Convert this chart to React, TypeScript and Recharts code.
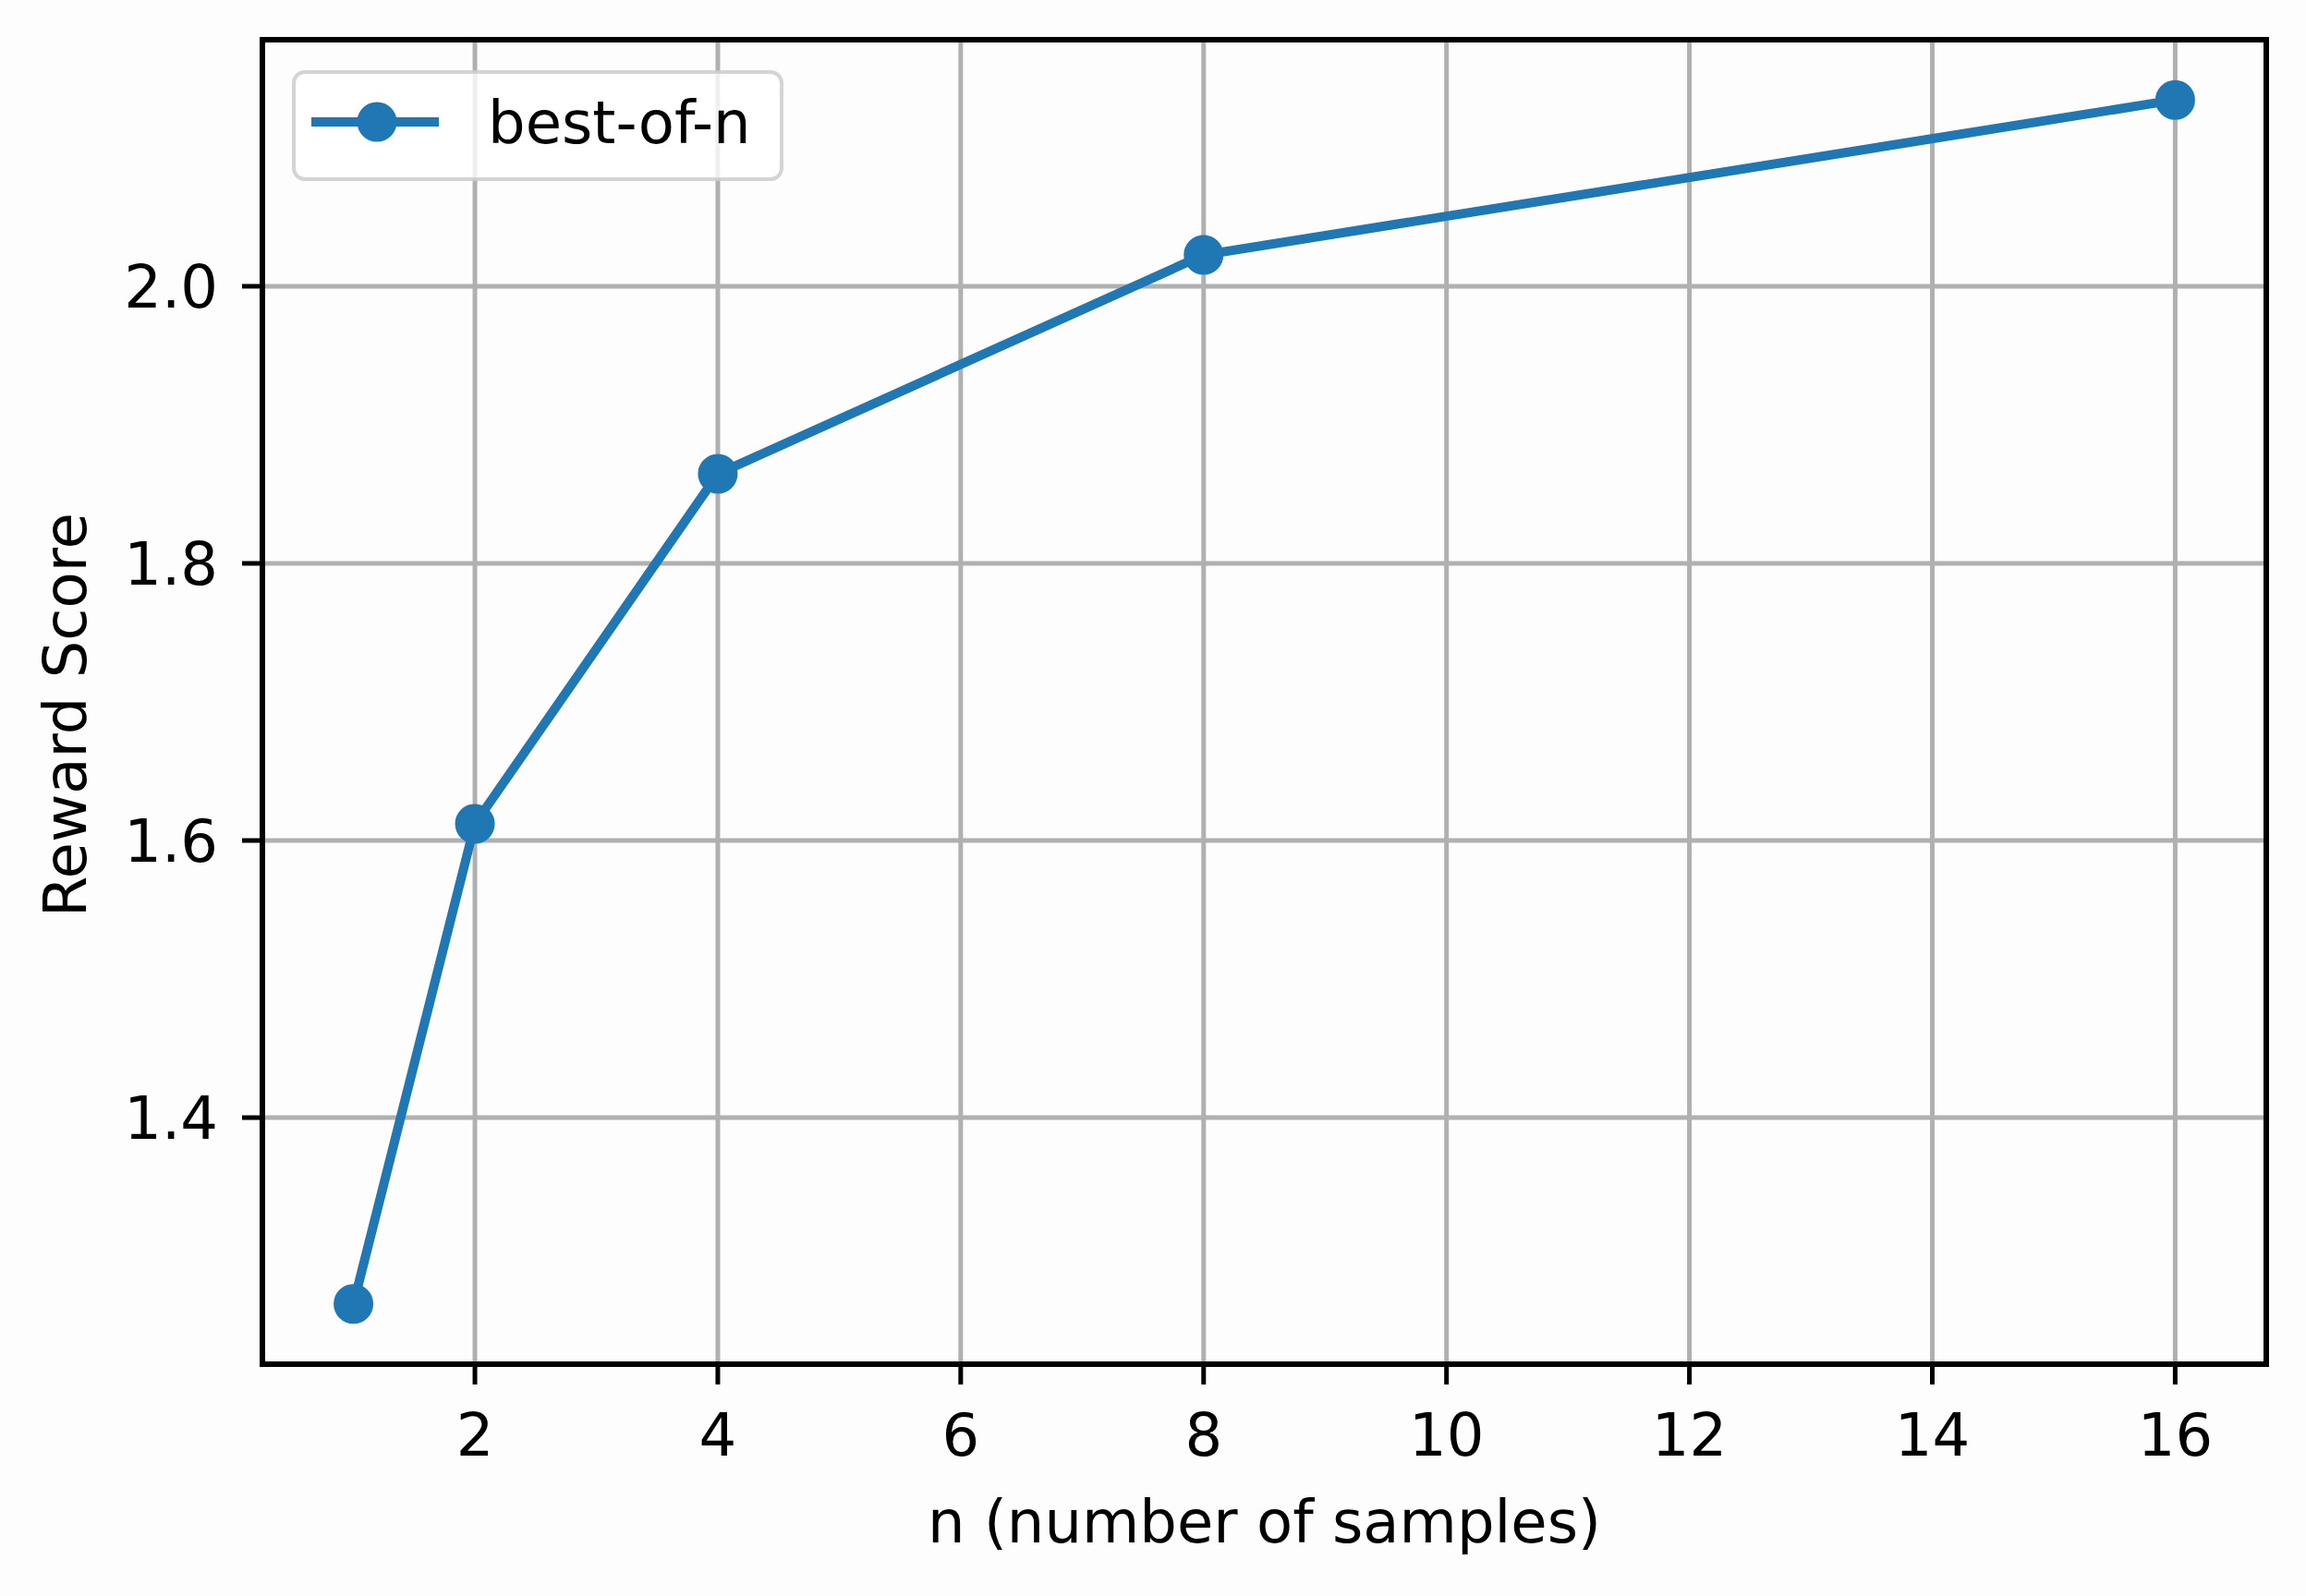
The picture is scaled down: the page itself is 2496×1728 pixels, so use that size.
import React from 'react';
import { LineChart, Line, XAxis, YAxis, CartesianGrid, ReferenceArea, Legend } from 'recharts';

// ---- data ----
const N_VALUES = [1, 2, 4, 8, 16];
const BEST_OF_N = [1.2655, 1.612, 1.8646, 2.0226, 2.1345];
const X_TICKS = [2, 4, 6, 8, 10, 12, 14, 16];
const Y_TICKS = [1.4, 1.6, 1.8, 2.0];
const SERIES_NAME = 'best-of-n';
const X_LABEL = 'n (number of samples)';
const Y_LABEL = 'Reward Score';

const data = N_VALUES.map((n, i) => ({ n, score: BEST_OF_N[i] }));

// matplotlib-like 5% autoscale margins
const xLo = Math.min(...N_VALUES);
const xHi = Math.max(...N_VALUES);
const yLo = Math.min(...BEST_OF_N);
const yHi = Math.max(...BEST_OF_N);
const X_MIN = xLo - 0.05 * (xHi - xLo);
const X_MAX = xHi + 0.05 * (xHi - xLo);
const Y_MIN = yLo - 0.05 * (yHi - yLo);
const Y_MAX = yHi + 0.05 * (yHi - yLo);

// ---- style ----
const FONT = '"DejaVu Sans", Verdana, sans-serif';
const FS = 64;
const BLUE = '#1f77b4';
const W = 2496;
const H = 1728;

const renderLegend = (props: any) => {
  const item = props && props.payload && props.payload[0];
  const color = (item && item.color) || BLUE;
  const label = (item && item.value) || SERIES_NAME;
  return (
    <svg width={532} height={120} style={{ display: 'block', overflow: 'visible' }}>
      <rect
        x={2}
        y={2}
        width={528}
        height={116}
        rx={12}
        ry={12}
        fill="#ffffff"
        fillOpacity={0.8}
        stroke="#cccccc"
        strokeOpacity={0.85}
        strokeWidth={4}
      />
      <line x1={21} x2={159} y1={56} y2={56} stroke={color} strokeWidth={10} />
      <circle cx={92} cy={56} r={18.5} fill={color} stroke={color} strokeWidth={6} />
      <text x={212} y={79} fontSize={FS} fontFamily={FONT} fill="#000000">
        {label}
      </text>
    </svg>
  );
};

const renderYLabel = (p: any) => {
  const vb = (p && p.viewBox) || { x: 44, y: 43, width: 240, height: 1434 };
  const cx = vb.x + 26;
  const cy = vb.y + vb.height / 2 + 14;
  return (
    <text
      x={cx}
      y={cy}
      dy={23}
      transform={`rotate(-90, ${cx}, ${cy})`}
      textAnchor="middle"
      fontSize={FS}
      fontFamily={FONT}
      fill="#000000"
    >
      {Y_LABEL}
    </text>
  );
};

const renderXLabel = (p: any) => {
  const vb = (p && p.viewBox) || { x: 284, y: 1477, width: 2169, height: 200 };
  return (
    <text
      x={vb.x + vb.width / 2}
      y={vb.y + 193}
      textAnchor="middle"
      fontSize={FS}
      fontFamily={FONT}
      fill="#000000"
    >
      {X_LABEL}
    </text>
  );
};

export default function App() {
  return (
    <div
      style={{
        position: 'absolute',
        left: 0,
        top: 0,
        width: W,
        height: H,
        background: '#fdfdfd',
        fontFamily: FONT,
      }}
    >
      <LineChart
        width={W}
        height={H}
        data={data}
        margin={{ top: 43, right: 43, left: 44, bottom: 51 }}
      >
        <CartesianGrid stroke="#b0b0b0" strokeWidth={5} />
        <XAxis
          dataKey="n"
          type="number"
          domain={[X_MIN, X_MAX]}
          ticks={X_TICKS}
          allowDataOverflow
          height={200}
          axisLine={false}
          tickLine={{ stroke: '#000000', strokeWidth: 5 }}
          tickSize={22}
          tickMargin={32}
          tick={{ fill: '#000000', fontSize: FS, fontFamily: FONT }}
          label={{ content: renderXLabel }}
        />
        <YAxis
          type="number"
          domain={[Y_MIN, Y_MAX]}
          ticks={Y_TICKS}
          allowDataOverflow
          width={240}
          axisLine={false}
          tickLine={{ stroke: '#000000', strokeWidth: 5 }}
          tickSize={22}
          tickMargin={26}
          tickFormatter={(v: number) => v.toFixed(1)}
          tick={{ fill: '#000000', fontSize: FS, fontFamily: FONT }}
          label={{ content: renderYLabel }}
        />
        <ReferenceArea
          x1={X_MIN}
          x2={X_MAX}
          y1={Y_MIN}
          y2={Y_MAX}
          fill="none"
          stroke="#000000"
          strokeWidth={6}
          ifOverflow="visible"
        />
        <Legend
          layout="vertical"
          align="center"
          verticalAlign="middle"
          content={renderLegend}
          wrapperStyle={{ left: 316, top: 76, width: 532, height: 120 }}
        />
        <Line
          type="linear"
          dataKey="score"
          name={SERIES_NAME}
          stroke={BLUE}
          strokeWidth={10}
          dot={{ r: 18.5, fill: BLUE, stroke: BLUE, strokeWidth: 6 }}
          activeDot={false}
          isAnimationActive={false}
        />
      </LineChart>
    </div>
  );
}
